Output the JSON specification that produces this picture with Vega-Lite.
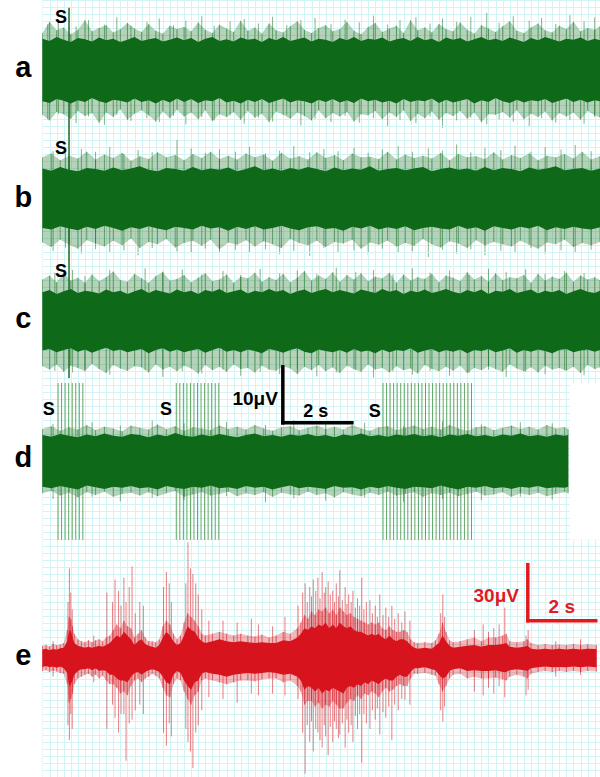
{
"$schema":"https://vega.github.io/schema/vega-lite/v6.json",
"padding":0,"spacing":0,"bounds":"flush","background":"white",
"config":{"view":{"stroke":null},"axis":{"labels":false,"ticks":false,"domain":false,"grid":true,"gridWidth":1,"gridOpacity":1,"minExtent":0,"maxExtent":0}},
"datasets":{
"aT":[{"t":0,"u":5.6,"l":-5.6,"pu":6.6,"pl":-8.0},{"t":0.2,"u":5.2,"l":-5.9,"pu":8.6,"pl":-9.0},{"t":0.4,"u":5.9,"l":-5.2,"pu":7.1,"pl":-7.5},{"t":0.6,"u":5.4,"l":-5.5,"pu":7.6,"pl":-7.9},{"t":0.8,"u":5.0,"l":-6.0,"pu":6.4,"pl":-8.7},{"t":1.0,"u":5.7,"l":-5.4,"pu":7.2,"pl":-7.3},{"t":1.2,"u":5.5,"l":-5.7,"pu":8.9,"pl":-8.2},{"t":1.4,"u":5.1,"l":-5.0,"pu":6.9,"pl":-7.7},{"t":1.6,"u":5.8,"l":-5.6,"pu":7.5,"pl":-9.4},{"t":1.8,"u":5.3,"l":-5.9,"pu":8.0,"pl":-7.6},{"t":2.0,"u":5.6,"l":-5.3,"pu":6.7,"pl":-8.4},{"t":2.2,"u":5.0,"l":-5.5,"pu":7.3,"pl":-7.0},{"t":2.4,"u":5.4,"l":-5.8,"pu":8.4,"pl":-8.9},{"t":2.6,"u":5.9,"l":-5.1,"pu":7.4,"pl":-7.8},{"t":2.8,"u":5.2,"l":-5.7,"pu":6.8,"pl":-7.2},{"t":3.0,"u":5.5,"l":-5.4,"pu":8.2,"pl":-8.1},{"t":3.2,"u":5.7,"l":-6.0,"pu":7.0,"pl":-9.2},{"t":3.4,"u":5.1,"l":-5.3,"pu":6.5,"pl":-7.4},{"t":3.6,"u":5.4,"l":-5.8,"pu":7.9,"pl":-8.6},{"t":3.8,"u":5.8,"l":-5.1,"pu":7.3,"pl":-7.1},{"t":4.0,"u":5.3,"l":-5.7,"pu":7.7,"pl":-8.3},{"t":4.2,"u":5.7,"l":-5.2,"pu":6.9,"pl":-7.6},{"t":4.4,"u":5.0,"l":-5.9,"pu":8.5,"pl":-8.8},{"t":4.6,"u":5.6,"l":-5.4,"pu":7.2,"pl":-7.2},{"t":4.8,"u":5.9,"l":-5.6,"pu":6.6,"pl":-9.1},{"t":5.0,"u":5.2,"l":-5.0,"pu":8.1,"pl":-7.9},{"t":5.2,"u":5.5,"l":-5.8,"pu":7.4,"pl":-8.4},{"t":5.4,"u":5.1,"l":-5.5,"pu":6.8,"pl":-7.5},{"t":5.6,"u":5.8,"l":-6.0,"pu":8.8,"pl":-8.9},{"t":5.8,"u":5.4,"l":-5.3,"pu":7.0,"pl":-7.3},{"t":6.0,"u":5.6,"l":-5.7,"pu":7.6,"pl":-8.5},{"t":6.2,"u":5.0,"l":-5.2,"pu":6.5,"pl":-7.8},{"t":6.4,"u":5.7,"l":-5.9,"pu":8.3,"pl":-9.3},{"t":6.6,"u":5.3,"l":-5.5,"pu":7.1,"pl":-7.4},{"t":6.8,"u":5.9,"l":-5.1,"pu":6.7,"pl":-8.0},{"t":7.0,"u":5.2,"l":-5.8,"pu":7.8,"pl":-8.7},{"t":7.2,"u":5.5,"l":-5.4,"pu":8.7,"pl":-7.6},{"t":7.4,"u":5.8,"l":-5.6,"pu":7.2,"pl":-8.2},{"t":7.6,"u":5.1,"l":-6.0,"pu":6.6,"pl":-9.0},{"t":7.8,"u":5.6,"l":-5.3,"pu":7.5,"pl":-7.2},{"t":8.0,"u":5.4,"l":-5.7,"pu":8.0,"pl":-8.6},{"t":8.2,"u":5.0,"l":-5.2,"pu":6.9,"pl":-7.7},{"t":8.4,"u":5.7,"l":-5.8,"pu":7.3,"pl":-8.3},{"t":8.6,"u":5.3,"l":-5.4,"pu":8.6,"pl":-7.5},{"t":8.8,"u":5.9,"l":-5.9,"pu":7.0,"pl":-9.2},{"t":9.0,"u":5.2,"l":-5.1,"pu":6.4,"pl":-7.9},{"t":9.2,"u":5.6,"l":-5.6,"pu":7.7,"pl":-8.1},{"t":9.4,"u":5.4,"l":-5.3,"pu":8.4,"pl":-7.3},{"t":9.6,"u":5.8,"l":-5.8,"pu":6.8,"pl":-8.8},{"t":9.8,"u":5.1,"l":-5.5,"pu":7.4,"pl":-7.6},{"t":10.0,"u":5.5,"l":-6.0,"pu":7.9,"pl":-8.4},{"t":10.2,"u":5.7,"l":-5.2,"pu":6.6,"pl":-7.2},{"t":10.4,"u":5.2,"l":-5.7,"pu":8.9,"pl":-9.1},{"t":10.6,"u":5.9,"l":-5.4,"pu":7.1,"pl":-7.8},{"t":10.8,"u":5.3,"l":-5.6,"pu":7.6,"pl":-8.6},{"t":11.0,"u":5.6,"l":-5.1,"pu":6.7,"pl":-7.4},{"t":11.2,"u":5.0,"l":-5.9,"pu":8.2,"pl":-8.9},{"t":11.4,"u":5.8,"l":-5.3,"pu":7.3,"pl":-7.7},{"t":11.6,"u":5.4,"l":-5.8,"pu":6.9,"pl":-8.2},{"t":11.8,"u":5.7,"l":-5.5,"pu":8.5,"pl":-7.3},{"t":12.0,"u":5.1,"l":-5.2,"pu":7.2,"pl":-8.7},{"t":12.2,"u":5.5,"l":-6.0,"pu":6.5,"pl":-7.6},{"t":12.4,"u":5.9,"l":-5.4,"pu":8.0,"pl":-9.3},{"t":12.6,"u":5.3,"l":-5.7,"pu":7.4,"pl":-7.9},{"t":12.8,"u":5.6,"l":-5.0,"pu":6.8,"pl":-8.0},{"t":13.0,"u":5.2,"l":-5.6,"pu":7.8,"pl":-7.5},{"t":13.2,"u":5.8,"l":-5.9,"pu":8.7,"pl":-8.5},{"t":13.4,"u":5.4,"l":-5.3,"pu":7.0,"pl":-7.2},{"t":13.6,"u":5.0,"l":-5.8,"pu":6.6,"pl":-8.8},{"t":13.8,"u":5.7,"l":-5.4,"pu":7.6,"pl":-7.8},{"t":14.0,"u":5.3,"l":-5.6,"pu":8.3,"pl":-8.4},{"t":14.2,"u":5.9,"l":-5.2,"pu":7.1,"pl":-7.4},{"t":14.4,"u":5.5,"l":-5.9,"pu":6.7,"pl":-9.0},{"t":14.6,"u":5.1,"l":-5.5,"pu":7.9,"pl":-7.7},{"t":14.8,"u":5.6,"l":-5.1,"pu":7.3,"pl":-8.3},{"t":15.0,"u":5.4,"l":-5.7,"pu":8.6,"pl":-7.6},{"t":15.2,"u":5.8,"l":-5.3,"pu":6.9,"pl":-8.9},{"t":15.4,"u":5.2,"l":-5.8,"pu":7.5,"pl":-7.3},{"t":15.6,"u":5.6,"l":-5.4,"pu":7.2,"pl":-8.1},{"t":15.75,"u":5.3,"l":-5.6,"pu":7.8,"pl":-8.5}],
"aS":[{"t":0.15,"u":8.2,"l":-8.8},{"t":0.45,"u":9.0,"l":-7.9},{"t":0.95,"u":7.8,"l":-9.5},{"t":1.3,"u":8.9,"l":-8.3},{"t":1.75,"u":8.1,"l":-9.8},{"t":2.1,"u":9.4,"l":-8.0},{"t":2.5,"u":7.9,"l":-9.1},{"t":2.95,"u":8.6,"l":-8.6},{"t":3.3,"u":9.2,"l":-9.3},{"t":3.7,"u":8.0,"l":-8.2},{"t":4.05,"u":8.8,"l":-9.7},{"t":4.5,"u":9.6,"l":-8.4},{"t":4.85,"u":7.9,"l":-9.0},{"t":5.3,"u":8.7,"l":-8.1},{"t":5.7,"u":9.1,"l":-9.6},{"t":6.1,"u":8.3,"l":-8.5},{"t":6.5,"u":9.5,"l":-9.2},{"t":6.9,"u":8.0,"l":-8.0},{"t":7.3,"u":8.9,"l":-9.9},{"t":7.7,"u":9.3,"l":-8.7},{"t":8.15,"u":8.2,"l":-9.3},{"t":8.55,"u":9.0,"l":-8.2},{"t":8.95,"u":8.5,"l":-9.4},{"t":9.35,"u":9.7,"l":-8.6},{"t":9.75,"u":8.1,"l":-10.1},{"t":10.1,"u":8.9,"l":-8.9},{"t":10.55,"u":9.4,"l":-9.5},{"t":10.95,"u":8.3,"l":-8.3},{"t":11.3,"u":9.2,"l":-10.4},{"t":11.7,"u":8.6,"l":-9.0},{"t":12.1,"u":9.5,"l":-8.5},{"t":12.55,"u":10.2,"l":-9.7},{"t":12.9,"u":8.4,"l":-8.8},{"t":13.3,"u":9.6,"l":-9.2},{"t":13.75,"u":8.8,"l":-10.0},{"t":14.1,"u":9.3,"l":-8.6},{"t":14.5,"u":8.2,"l":-9.4},{"t":14.9,"u":9.8,"l":-8.9},{"t":15.3,"u":8.7,"l":-9.6},{"t":15.6,"u":9.4,"l":-8.4}],
"bT":[{"t":0,"u":4.9,"l":-5.7,"pu":6.9,"pl":-8.3},{"t":0.25,"u":4.5,"l":-6.0,"pu":7.6,"pl":-9.1},{"t":0.5,"u":5.2,"l":-5.4,"pu":6.4,"pl":-7.8},{"t":0.75,"u":4.7,"l":-5.8,"pu":7.2,"pl":-8.7},{"t":1.0,"u":4.4,"l":-6.1,"pu":6.7,"pl":-9.4},{"t":1.25,"u":5.0,"l":-5.5,"pu":7.9,"pl":-7.9},{"t":1.5,"u":4.8,"l":-5.9,"pu":6.5,"pl":-8.5},{"t":1.75,"u":4.5,"l":-5.3,"pu":7.4,"pl":-9.0},{"t":2.0,"u":5.1,"l":-5.7,"pu":6.8,"pl":-8.0},{"t":2.25,"u":4.6,"l":-6.2,"pu":7.7,"pl":-8.8},{"t":2.5,"u":4.9,"l":-5.6,"pu":6.3,"pl":-7.6},{"t":2.75,"u":5.3,"l":-5.9,"pu":7.1,"pl":-9.3},{"t":3.0,"u":4.7,"l":-5.4,"pu":6.6,"pl":-8.2},{"t":3.25,"u":4.4,"l":-5.8,"pu":7.8,"pl":-8.6},{"t":3.5,"u":5.0,"l":-6.1,"pu":6.9,"pl":-7.7},{"t":3.75,"u":4.8,"l":-5.5,"pu":7.3,"pl":-9.2},{"t":4.0,"u":4.5,"l":-5.7,"pu":6.4,"pl":-8.4},{"t":4.25,"u":5.2,"l":-6.0,"pu":7.5,"pl":-8.0},{"t":4.5,"u":4.6,"l":-5.3,"pu":6.8,"pl":-8.9},{"t":4.75,"u":4.9,"l":-5.8,"pu":7.9,"pl":-7.8},{"t":5.0,"u":4.7,"l":-5.6,"pu":6.6,"pl":-9.5},{"t":5.25,"u":5.1,"l":-6.2,"pu":7.2,"pl":-8.3},{"t":5.5,"u":4.4,"l":-5.5,"pu":6.5,"pl":-8.7},{"t":5.75,"u":4.8,"l":-5.9,"pu":7.6,"pl":-7.9},{"t":6.0,"u":5.3,"l":-5.4,"pu":6.9,"pl":-9.0},{"t":6.25,"u":4.6,"l":-6.0,"pu":7.4,"pl":-8.1},{"t":6.5,"u":4.9,"l":-5.7,"pu":6.3,"pl":-8.6},{"t":6.75,"u":4.5,"l":-5.3,"pu":7.7,"pl":-9.3},{"t":7.0,"u":5.0,"l":-5.8,"pu":6.7,"pl":-7.7},{"t":7.25,"u":4.7,"l":-6.1,"pu":7.1,"pl":-8.4},{"t":7.5,"u":5.2,"l":-5.6,"pu":6.5,"pl":-8.8},{"t":7.75,"u":4.8,"l":-5.4,"pu":7.8,"pl":-8.0},{"t":8.0,"u":4.4,"l":-5.9,"pu":6.8,"pl":-9.1},{"t":8.25,"u":5.1,"l":-5.7,"pu":7.3,"pl":-8.2},{"t":8.5,"u":4.6,"l":-6.2,"pu":6.4,"pl":-8.5},{"t":8.75,"u":4.9,"l":-5.5,"pu":7.6,"pl":-7.8},{"t":9.0,"u":4.7,"l":-5.8,"pu":6.9,"pl":-9.4},{"t":9.25,"u":5.3,"l":-5.3,"pu":7.0,"pl":-8.3},{"t":9.5,"u":4.5,"l":-6.0,"pu":6.6,"pl":-8.7},{"t":9.75,"u":4.8,"l":-5.6,"pu":7.9,"pl":-8.0},{"t":10.0,"u":5.0,"l":-5.9,"pu":6.5,"pl":-9.0},{"t":10.25,"u":4.6,"l":-5.4,"pu":7.4,"pl":-8.4},{"t":10.5,"u":4.9,"l":-6.1,"pu":6.8,"pl":-8.9},{"t":10.75,"u":5.2,"l":-5.7,"pu":7.2,"pl":-7.7},{"t":11.0,"u":4.4,"l":-5.5,"pu":6.7,"pl":-8.6},{"t":11.25,"u":4.8,"l":-5.8,"pu":7.7,"pl":-9.2},{"t":11.5,"u":5.1,"l":-6.0,"pu":6.4,"pl":-8.1},{"t":11.75,"u":4.7,"l":-5.3,"pu":7.5,"pl":-8.5},{"t":12.0,"u":4.9,"l":-5.9,"pu":6.9,"pl":-9.3},{"t":12.25,"u":4.5,"l":-5.6,"pu":7.1,"pl":-7.9},{"t":12.5,"u":5.2,"l":-6.2,"pu":6.6,"pl":-8.8},{"t":12.75,"u":4.6,"l":-5.4,"pu":7.8,"pl":-8.2},{"t":13.0,"u":5.0,"l":-5.7,"pu":6.5,"pl":-8.6},{"t":13.25,"u":4.8,"l":-6.0,"pu":7.3,"pl":-9.0},{"t":13.5,"u":4.4,"l":-5.5,"pu":6.8,"pl":-8.0},{"t":13.75,"u":5.1,"l":-5.8,"pu":7.6,"pl":-8.7},{"t":14.0,"u":4.7,"l":-5.3,"pu":6.4,"pl":-9.4},{"t":14.25,"u":4.9,"l":-6.1,"pu":7.2,"pl":-8.3},{"t":14.5,"u":5.3,"l":-5.6,"pu":6.9,"pl":-8.6},{"t":14.75,"u":4.6,"l":-5.9,"pu":7.5,"pl":-7.8},{"t":15.0,"u":4.8,"l":-5.5,"pu":6.7,"pl":-9.1},{"t":15.25,"u":5.0,"l":-5.8,"pu":7.9,"pl":-8.4},{"t":15.5,"u":4.5,"l":-6.0,"pu":6.5,"pl":-8.8},{"t":15.75,"u":4.9,"l":-5.6,"pu":7.1,"pl":-8.2}],
"bS":[{"t":0.3,"u":8.0,"l":-9.8},{"t":0.65,"u":7.6,"l":-9.2},{"t":1.1,"u":8.4,"l":-10.3},{"t":1.5,"u":7.9,"l":-9.5},{"t":1.9,"u":8.7,"l":-10.0},{"t":2.3,"u":7.5,"l":-9.7},{"t":2.7,"u":8.2,"l":-10.6},{"t":3.1,"u":7.8,"l":-9.3},{"t":3.8,"u":10.0,"l":-9.9},{"t":4.2,"u":8.5,"l":-10.2},{"t":4.6,"u":7.7,"l":-9.4},{"t":5.0,"u":8.3,"l":-10.8},{"t":5.45,"u":7.9,"l":-9.6},{"t":5.85,"u":8.8,"l":-10.1},{"t":6.3,"u":7.6,"l":-9.5},{"t":6.7,"u":8.1,"l":-10.4},{"t":7.1,"u":8.9,"l":-9.8},{"t":7.55,"u":7.8,"l":-10.7},{"t":7.95,"u":8.4,"l":-9.3},{"t":8.35,"u":8.0,"l":-10.0},{"t":8.8,"u":8.6,"l":-9.7},{"t":9.2,"u":7.7,"l":-10.5},{"t":9.6,"u":8.3,"l":-9.4},{"t":10.05,"u":8.9,"l":-10.2},{"t":10.45,"u":7.9,"l":-9.9},{"t":10.9,"u":8.5,"l":-10.9},{"t":11.3,"u":8.1,"l":-9.6},{"t":11.7,"u":9.2,"l":-10.3},{"t":12.1,"u":7.8,"l":-9.5},{"t":12.5,"u":8.6,"l":-10.6},{"t":12.95,"u":8.2,"l":-9.8},{"t":13.35,"u":9.0,"l":-10.1},{"t":13.8,"u":7.9,"l":-9.3},{"t":14.2,"u":8.7,"l":-10.4},{"t":14.65,"u":8.3,"l":-9.7},{"t":15.05,"u":9.1,"l":-10.0},{"t":15.5,"u":8.0,"l":-9.6}],
"cT":[{"t":0,"u":5.3,"l":-5.1,"pu":7.6,"pl":-7.9},{"t":0.2,"u":5.7,"l":-4.8,"pu":8.3,"pl":-8.5},{"t":0.4,"u":5.0,"l":-5.4,"pu":7.1,"pl":-7.6},{"t":0.6,"u":5.5,"l":-5.0,"pu":8.8,"pl":-8.9},{"t":0.8,"u":5.9,"l":-4.7,"pu":7.4,"pl":-7.8},{"t":1.0,"u":5.2,"l":-5.3,"pu":7.9,"pl":-8.2},{"t":1.2,"u":5.6,"l":-4.9,"pu":7.0,"pl":-8.8},{"t":1.4,"u":5.4,"l":-5.5,"pu":8.5,"pl":-7.5},{"t":1.6,"u":5.1,"l":-5.0,"pu":7.3,"pl":-8.4},{"t":1.8,"u":5.8,"l":-4.6,"pu":8.0,"pl":-9.1},{"t":2.0,"u":5.3,"l":-5.2,"pu":9.0,"pl":-7.7},{"t":2.2,"u":5.6,"l":-4.9,"pu":7.5,"pl":-8.3},{"t":2.4,"u":5.0,"l":-5.4,"pu":7.2,"pl":-8.7},{"t":2.6,"u":5.5,"l":-5.1,"pu":8.6,"pl":-7.9},{"t":2.8,"u":5.9,"l":-4.8,"pu":7.8,"pl":-8.1},{"t":3.0,"u":5.2,"l":-5.6,"pu":7.0,"pl":-9.0},{"t":3.2,"u":5.7,"l":-5.0,"pu":8.2,"pl":-7.6},{"t":3.4,"u":5.4,"l":-4.7,"pu":8.9,"pl":-8.5},{"t":3.6,"u":5.1,"l":-5.3,"pu":7.4,"pl":-8.0},{"t":3.8,"u":5.8,"l":-4.9,"pu":7.7,"pl":-8.8},{"t":4.0,"u":5.3,"l":-5.4,"pu":8.4,"pl":-7.8},{"t":4.2,"u":5.6,"l":-5.1,"pu":7.1,"pl":-8.3},{"t":4.4,"u":5.0,"l":-4.8,"pu":7.9,"pl":-9.2},{"t":4.6,"u":5.7,"l":-5.5,"pu":8.7,"pl":-7.7},{"t":4.8,"u":5.4,"l":-5.0,"pu":7.3,"pl":-8.6},{"t":5.0,"u":5.9,"l":-4.6,"pu":7.6,"pl":-8.0},{"t":5.2,"u":5.2,"l":-5.3,"pu":8.5,"pl":-8.9},{"t":5.4,"u":5.5,"l":-5.0,"pu":7.0,"pl":-7.6},{"t":5.6,"u":5.8,"l":-5.4,"pu":8.1,"pl":-8.4},{"t":5.8,"u":5.1,"l":-4.9,"pu":7.8,"pl":-8.2},{"t":6.0,"u":5.6,"l":-5.2,"pu":8.8,"pl":-9.0},{"t":6.2,"u":5.3,"l":-5.6,"pu":7.2,"pl":-7.8},{"t":6.4,"u":5.9,"l":-4.8,"pu":8.0,"pl":-8.5},{"t":6.6,"u":5.4,"l":-5.1,"pu":7.5,"pl":-8.7},{"t":6.8,"u":5.7,"l":-5.5,"pu":8.6,"pl":-7.9},{"t":7.0,"u":5.0,"l":-5.0,"pu":7.1,"pl":-8.3},{"t":7.2,"u":5.5,"l":-4.7,"pu":7.9,"pl":-9.3},{"t":7.4,"u":5.8,"l":-5.3,"pu":9.1,"pl":-8.0},{"t":7.6,"u":5.2,"l":-5.6,"pu":7.4,"pl":-8.6},{"t":7.8,"u":5.6,"l":-4.9,"pu":8.3,"pl":-7.7},{"t":8.0,"u":5.9,"l":-5.2,"pu":7.7,"pl":-8.8},{"t":8.2,"u":5.3,"l":-5.4,"pu":8.9,"pl":-8.1},{"t":8.4,"u":5.7,"l":-5.0,"pu":7.2,"pl":-9.1},{"t":8.6,"u":5.4,"l":-5.5,"pu":8.4,"pl":-7.8},{"t":8.8,"u":5.1,"l":-4.8,"pu":7.6,"pl":-8.4},{"t":9.0,"u":5.8,"l":-5.3,"pu":8.7,"pl":-8.9},{"t":9.2,"u":5.5,"l":-5.1,"pu":7.3,"pl":-7.6},{"t":9.4,"u":5.2,"l":-5.6,"pu":8.1,"pl":-8.5},{"t":9.6,"u":5.9,"l":-4.9,"pu":7.8,"pl":-8.2},{"t":9.8,"u":5.4,"l":-5.4,"pu":8.8,"pl":-9.0},{"t":10.0,"u":5.7,"l":-5.0,"pu":7.0,"pl":-7.9},{"t":10.2,"u":5.0,"l":-5.2,"pu":8.5,"pl":-8.6},{"t":10.4,"u":5.6,"l":-4.7,"pu":7.4,"pl":-8.3},{"t":10.6,"u":5.3,"l":-5.5,"pu":8.0,"pl":-9.2},{"t":10.8,"u":5.8,"l":-5.1,"pu":7.7,"pl":-7.7},{"t":11.0,"u":5.2,"l":-4.8,"pu":8.6,"pl":-8.4},{"t":11.2,"u":5.5,"l":-5.4,"pu":7.1,"pl":-8.8},{"t":11.4,"u":5.9,"l":-5.0,"pu":8.3,"pl":-8.0},{"t":11.6,"u":5.4,"l":-5.3,"pu":7.9,"pl":-8.7},{"t":11.8,"u":5.1,"l":-4.9,"pu":7.3,"pl":-7.8},{"t":12.0,"u":5.7,"l":-5.6,"pu":8.9,"pl":-9.1},{"t":12.2,"u":5.3,"l":-5.0,"pu":7.6,"pl":-8.2},{"t":12.4,"u":5.8,"l":-5.2,"pu":8.2,"pl":-8.6},{"t":12.6,"u":5.0,"l":-4.8,"pu":7.2,"pl":-7.9},{"t":12.8,"u":5.6,"l":-5.4,"pu":8.7,"pl":-8.4},{"t":13.0,"u":5.4,"l":-5.1,"pu":7.5,"pl":-8.9},{"t":13.2,"u":5.9,"l":-4.7,"pu":8.0,"pl":-7.6},{"t":13.4,"u":5.2,"l":-5.5,"pu":7.8,"pl":-8.3},{"t":13.6,"u":5.5,"l":-5.0,"pu":8.4,"pl":-8.8},{"t":13.8,"u":5.8,"l":-5.3,"pu":7.0,"pl":-8.1},{"t":14.0,"u":5.1,"l":-4.9,"pu":8.6,"pl":-9.0},{"t":14.2,"u":5.6,"l":-5.2,"pu":7.4,"pl":-7.8},{"t":14.4,"u":5.3,"l":-5.6,"pu":8.1,"pl":-8.5},{"t":14.6,"u":5.7,"l":-5.0,"pu":7.7,"pl":-8.2},{"t":14.8,"u":5.0,"l":-4.8,"pu":8.8,"pl":-8.7},{"t":15.0,"u":5.5,"l":-5.4,"pu":7.2,"pl":-8.0},{"t":15.2,"u":5.9,"l":-5.1,"pu":8.3,"pl":-9.1},{"t":15.4,"u":5.4,"l":-4.9,"pu":7.6,"pl":-7.7},{"t":15.6,"u":5.2,"l":-5.3,"pu":8.0,"pl":-8.4},{"t":15.75,"u":5.6,"l":-5.0,"pu":7.5,"pl":-8.1}],
"cS":[{"t":0.35,"u":8.8,"l":-8.7},{"t":0.85,"u":9.3,"l":-9.0},{"t":1.2,"u":8.2,"l":-8.4},{"t":1.9,"u":9.3,"l":-9.4},{"t":2.9,"u":9.6,"l":-8.6},{"t":3.4,"u":9.0,"l":-9.8},{"t":3.95,"u":9.4,"l":-8.8},{"t":4.5,"u":8.5,"l":-9.2},{"t":5.1,"u":9.1,"l":-8.5},{"t":5.6,"u":8.4,"l":-9.6},{"t":6.15,"u":9.5,"l":-8.9},{"t":6.7,"u":8.7,"l":-9.3},{"t":7.2,"u":9.2,"l":-8.4},{"t":7.75,"u":8.6,"l":-9.7},{"t":8.3,"u":9.7,"l":-9.0},{"t":8.85,"u":8.9,"l":-8.6},{"t":9.35,"u":9.3,"l":-9.9},{"t":9.9,"u":8.5,"l":-8.8},{"t":10.45,"u":9.6,"l":-9.4},{"t":10.95,"u":8.8,"l":-8.7},{"t":11.5,"u":9.2,"l":-9.6},{"t":12.05,"u":8.4,"l":-9.1},{"t":12.6,"u":9.5,"l":-8.5},{"t":13.1,"u":8.9,"l":-9.8},{"t":13.65,"u":9.4,"l":-8.9},{"t":14.2,"u":8.6,"l":-9.3},{"t":14.75,"u":9.1,"l":-8.6},{"t":15.3,"u":8.7,"l":-9.5}],
"dT":[{"t":0,"u":4.8,"l":-4.4,"pu":5.9,"pl":-5.6},{"t":0.25,"u":4.5,"l":-4.7,"pu":6.4,"pl":-5.2},{"t":0.5,"u":5.0,"l":-4.3,"pu":5.6,"pl":-6.0},{"t":0.75,"u":4.7,"l":-4.6,"pu":6.2,"pl":-5.5},{"t":1.0,"u":4.4,"l":-4.9,"pu":5.8,"pl":-6.3},{"t":1.25,"u":4.9,"l":-4.2,"pu":6.6,"pl":-5.4},{"t":1.5,"u":4.6,"l":-4.5,"pu":5.7,"pl":-5.9},{"t":1.75,"u":5.1,"l":-4.8,"pu":6.3,"pl":-5.3},{"t":2.0,"u":4.7,"l":-4.4,"pu":6.0,"pl":-6.2},{"t":2.25,"u":4.5,"l":-4.6,"pu":5.5,"pl":-5.7},{"t":2.5,"u":5.0,"l":-4.3,"pu":6.5,"pl":-5.5},{"t":2.75,"u":4.8,"l":-4.7,"pu":6.1,"pl":-6.0},{"t":3.0,"u":4.4,"l":-4.5,"pu":5.8,"pl":-5.4},{"t":3.25,"u":4.9,"l":-4.9,"pu":6.7,"pl":-6.1},{"t":3.5,"u":4.6,"l":-4.3,"pu":5.9,"pl":-5.6},{"t":3.75,"u":5.2,"l":-4.6,"pu":6.4,"pl":-5.2},{"t":4.0,"u":4.7,"l":-4.8,"pu":5.6,"pl":-6.2},{"t":4.25,"u":4.5,"l":-4.4,"pu":6.2,"pl":-5.8},{"t":4.5,"u":4.9,"l":-4.6,"pu":6.0,"pl":-5.4},{"t":4.75,"u":4.6,"l":-4.2,"pu":5.7,"pl":-6.0},{"t":5.0,"u":5.0,"l":-4.7,"pu":6.5,"pl":-5.7},{"t":5.25,"u":4.7,"l":-4.5,"pu":5.9,"pl":-5.3},{"t":5.5,"u":4.4,"l":-4.8,"pu":6.3,"pl":-6.1},{"t":5.75,"u":4.8,"l":-4.3,"pu":5.8,"pl":-5.6},{"t":6.0,"u":5.1,"l":-4.6,"pu":6.6,"pl":-5.9},{"t":6.25,"u":4.6,"l":-4.4,"pu":6.0,"pl":-5.4},{"t":6.5,"u":4.8,"l":-4.9,"pu":5.6,"pl":-6.2},{"t":6.75,"u":4.5,"l":-4.5,"pu":6.2,"pl":-5.5},{"t":7.0,"u":4.9,"l":-4.2,"pu":6.4,"pl":-5.8},{"t":7.25,"u":4.7,"l":-4.7,"pu":5.7,"pl":-6.0},{"t":7.5,"u":5.0,"l":-4.4,"pu":6.1,"pl":-5.3},{"t":7.75,"u":4.6,"l":-4.6,"pu":6.5,"pl":-5.9},{"t":8.0,"u":4.8,"l":-4.8,"pu":5.9,"pl":-5.6},{"t":8.25,"u":4.4,"l":-4.3,"pu":6.3,"pl":-6.3},{"t":8.5,"u":4.9,"l":-4.6,"pu":5.8,"pl":-5.4},{"t":8.75,"u":4.7,"l":-4.5,"pu":6.6,"pl":-5.8},{"t":9.0,"u":5.1,"l":-4.9,"pu":6.0,"pl":-6.1},{"t":9.25,"u":4.6,"l":-4.4,"pu":5.6,"pl":-5.5},{"t":9.5,"u":4.8,"l":-4.7,"pu":6.2,"pl":-5.9},{"t":9.75,"u":4.5,"l":-4.3,"pu":6.4,"pl":-5.3},{"t":10.0,"u":4.9,"l":-4.6,"pu":5.7,"pl":-6.0},{"t":10.25,"u":4.7,"l":-4.8,"pu":6.1,"pl":-5.7},{"t":10.5,"u":5.0,"l":-4.4,"pu":6.5,"pl":-5.4},{"t":10.75,"u":4.6,"l":-4.5,"pu":5.9,"pl":-6.2},{"t":11.0,"u":4.8,"l":-4.7,"pu":6.3,"pl":-5.6},{"t":11.25,"u":4.4,"l":-4.2,"pu":5.8,"pl":-5.9},{"t":11.5,"u":4.9,"l":-4.6,"pu":6.6,"pl":-5.5},{"t":11.75,"u":4.7,"l":-4.9,"pu":6.0,"pl":-6.1},{"t":12.0,"u":5.0,"l":-4.4,"pu":5.6,"pl":-5.7},{"t":12.25,"u":4.6,"l":-4.6,"pu":6.2,"pl":-5.3},{"t":12.5,"u":4.8,"l":-4.3,"pu":6.4,"pl":-6.0},{"t":12.75,"u":4.5,"l":-4.7,"pu":5.7,"pl":-5.8},{"t":13.0,"u":4.9,"l":-4.5,"pu":6.1,"pl":-5.4},{"t":13.25,"u":4.7,"l":-4.8,"pu":6.5,"pl":-6.2},{"t":13.5,"u":5.1,"l":-4.4,"pu":5.9,"pl":-5.6},{"t":13.75,"u":4.6,"l":-4.6,"pu":6.3,"pl":-5.9},{"t":14.0,"u":4.8,"l":-4.3,"pu":5.8,"pl":-5.5},{"t":14.25,"u":4.5,"l":-4.7,"pu":6.6,"pl":-6.1},{"t":14.5,"u":4.9,"l":-4.5,"pu":6.0,"pl":-5.7},{"t":14.75,"u":4.7,"l":-4.6,"pu":6.2,"pl":-5.4},{"t":14.85,"u":4.8,"l":-4.4,"pu":5.9,"pl":-5.6}],
"dS":[{"t":0.3,"u":6.8,"l":-6.6},{"t":1.4,"u":7.1,"l":-6.2},{"t":2.2,"u":6.5,"l":-7.0},{"t":3.1,"u":7.4,"l":-6.4},{"t":4.0,"u":6.9,"l":-6.8},{"t":5.2,"u":7.2,"l":-6.1},{"t":6.3,"u":6.6,"l":-7.2},{"t":7.1,"u":7.5,"l":-6.5},{"t":8.0,"u":6.8,"l":-6.9},{"t":9.1,"u":7.0,"l":-6.3},{"t":10.2,"u":6.4,"l":-7.1},{"t":11.3,"u":7.3,"l":-6.6},{"t":12.4,"u":6.7,"l":-6.8},{"t":13.5,"u":7.1,"l":-6.2},{"t":14.4,"u":6.9,"l":-6.7}],
"stim":[{"t":0.44},{"t":0.54},{"t":0.64},{"t":0.74},{"t":0.84},{"t":0.94},{"t":1.04},{"t":1.14},{"t":3.78},{"t":3.88},{"t":3.98},{"t":4.08},{"t":4.18},{"t":4.28},{"t":4.38},{"t":4.48},{"t":4.58},{"t":4.68},{"t":4.78},{"t":4.88},{"t":4.98},{"t":9.62},{"t":9.72},{"t":9.82},{"t":9.92},{"t":10.02},{"t":10.12},{"t":10.22},{"t":10.32},{"t":10.42},{"t":10.52},{"t":10.62},{"t":10.72},{"t":10.82},{"t":10.92},{"t":11.02},{"t":11.12},{"t":11.22},{"t":11.32},{"t":11.42},{"t":11.52},{"t":11.62},{"t":11.72},{"t":11.82},{"t":11.92},{"t":12.02},{"t":12.12}],
"eT":[{"t":0,"u":4.5,"l":-4.8,"pu":6.5,"pl":-7},{"t":0.1,"u":5,"l":-4.3,"pu":7,"pl":-6.5},{"t":0.2,"u":4.2,"l":-5,"pu":6.2,"pl":-7.5},{"t":0.3,"u":4.8,"l":-4.5,"pu":7.5,"pl":-6.8},{"t":0.4,"u":4.4,"l":-5.2,"pu":6.8,"pl":-7.2},{"t":0.5,"u":5.2,"l":-4.6,"pu":7.2,"pl":-8},{"t":0.6,"u":5.5,"l":-5.5,"pu":8,"pl":-8.5},{"t":0.7,"u":9,"l":-8,"pu":15,"pl":-14},{"t":0.75,"u":14,"l":-15,"pu":22,"pl":-24},{"t":0.8,"u":15,"l":-14,"pu":21,"pl":-22},{"t":0.85,"u":11,"l":-12,"pu":17,"pl":-19},{"t":0.9,"u":8,"l":-9,"pu":13,"pl":-14},{"t":1.0,"u":6.5,"l":-7,"pu":10,"pl":-11},{"t":1.1,"u":6,"l":-6,"pu":9,"pl":-10},{"t":1.2,"u":5.5,"l":-6,"pu":8.5,"pl":-9},{"t":1.3,"u":6,"l":-5.5,"pu":9.5,"pl":-8.5},{"t":1.4,"u":5.5,"l":-6.5,"pu":8.5,"pl":-10},{"t":1.5,"u":6,"l":-5.5,"pu":9.5,"pl":-9},{"t":1.6,"u":6.5,"l":-7,"pu":10,"pl":-11},{"t":1.7,"u":6,"l":-6.5,"pu":9,"pl":-9.5},{"t":1.8,"u":7,"l":-7,"pu":11,"pl":-12},{"t":1.9,"u":8,"l":-9,"pu":12,"pl":-14},{"t":2.0,"u":10,"l":-9,"pu":15,"pl":-14},{"t":2.1,"u":12,"l":-11,"pu":18,"pl":-16},{"t":2.2,"u":11,"l":-12,"pu":16,"pl":-19},{"t":2.3,"u":14,"l":-12,"pu":20,"pl":-18},{"t":2.4,"u":12,"l":-13,"pu":17,"pl":-20},{"t":2.5,"u":10,"l":-10,"pu":16,"pl":-15},{"t":2.6,"u":7,"l":-8,"pu":11,"pl":-12},{"t":2.7,"u":9,"l":-7.5,"pu":13,"pl":-11},{"t":2.8,"u":10,"l":-9,"pu":15,"pl":-13},{"t":2.9,"u":7.5,"l":-7.5,"pu":11,"pl":-11},{"t":3.0,"u":6.5,"l":-6.5,"pu":9,"pl":-10},{"t":3.1,"u":6,"l":-6,"pu":9,"pl":-8.5},{"t":3.2,"u":5.5,"l":-6.5,"pu":8.5,"pl":-9.5},{"t":3.3,"u":7,"l":-7.5,"pu":10,"pl":-11},{"t":3.4,"u":11,"l":-10,"pu":17,"pl":-16},{"t":3.5,"u":14,"l":-13,"pu":20,"pl":-20},{"t":3.6,"u":12,"l":-14,"pu":18,"pl":-21},{"t":3.7,"u":9,"l":-9,"pu":13,"pl":-14},{"t":3.8,"u":7,"l":-7,"pu":10,"pl":-11},{"t":3.9,"u":8,"l":-8,"pu":12,"pl":-12},{"t":4.0,"u":12,"l":-12,"pu":19,"pl":-18},{"t":4.1,"u":17,"l":-15,"pu":24,"pl":-22},{"t":4.2,"u":15,"l":-17,"pu":22,"pl":-25},{"t":4.3,"u":14,"l":-13,"pu":20,"pl":-20},{"t":4.4,"u":11,"l":-12,"pu":17,"pl":-18},{"t":4.5,"u":9,"l":-8.5,"pu":13,"pl":-12},{"t":4.6,"u":8,"l":-7.5,"pu":12,"pl":-11},{"t":4.8,"u":9,"l":-8.5,"pu":13,"pl":-12},{"t":5.0,"u":10,"l":-9,"pu":14,"pl":-13},{"t":5.2,"u":9,"l":-10,"pu":13,"pl":-14},{"t":5.4,"u":8.5,"l":-9,"pu":12,"pl":-13},{"t":5.6,"u":9,"l":-8.5,"pu":13,"pl":-12},{"t":5.8,"u":8.5,"l":-8,"pu":12,"pl":-12},{"t":6.0,"u":8,"l":-8.5,"pu":11.5,"pl":-12.5},{"t":6.2,"u":8.5,"l":-8,"pu":12.5,"pl":-11.5},{"t":6.4,"u":8,"l":-7.5,"pu":11,"pl":-11},{"t":6.6,"u":8,"l":-8,"pu":12,"pl":-11},{"t":6.8,"u":9.5,"l":-9,"pu":14,"pl":-13},{"t":7.0,"u":9,"l":-8.5,"pu":13,"pl":-12},{"t":7.2,"u":11,"l":-10,"pu":16,"pl":-15},{"t":7.3,"u":13,"l":-12,"pu":19,"pl":-18},{"t":7.4,"u":16,"l":-17,"pu":23,"pl":-25},{"t":7.5,"u":15,"l":-15,"pu":21,"pl":-23},{"t":7.6,"u":17,"l":-16,"pu":25,"pl":-23},{"t":7.7,"u":16,"l":-18,"pu":23,"pl":-26},{"t":7.8,"u":18,"l":-16,"pu":26,"pl":-24},{"t":7.9,"u":17,"l":-19,"pu":25,"pl":-27},{"t":8.0,"u":19,"l":-17,"pu":27,"pl":-25},{"t":8.1,"u":16,"l":-18,"pu":24,"pl":-26},{"t":8.2,"u":18,"l":-16,"pu":26,"pl":-23},{"t":8.3,"u":16,"l":-17,"pu":23,"pl":-25},{"t":8.4,"u":19,"l":-18,"pu":27,"pl":-27},{"t":8.5,"u":17,"l":-19,"pu":25,"pl":-27},{"t":8.6,"u":16,"l":-16,"pu":23,"pl":-24},{"t":8.7,"u":17,"l":-15,"pu":24,"pl":-22},{"t":8.8,"u":15,"l":-16,"pu":22,"pl":-23},{"t":8.9,"u":14,"l":-14,"pu":21,"pl":-20},{"t":9.0,"u":14,"l":-15,"pu":20,"pl":-22},{"t":9.1,"u":13,"l":-13,"pu":19,"pl":-19},{"t":9.2,"u":12,"l":-14,"pu":18,"pl":-20},{"t":9.3,"u":13,"l":-12,"pu":19,"pl":-18},{"t":9.4,"u":12,"l":-13,"pu":18,"pl":-19},{"t":9.5,"u":13,"l":-14,"pu":19,"pl":-21},{"t":9.6,"u":11,"l":-12,"pu":16,"pl":-18},{"t":9.7,"u":10,"l":-11,"pu":15,"pl":-16},{"t":9.8,"u":12,"l":-12,"pu":17,"pl":-18},{"t":9.9,"u":10,"l":-12,"pu":15,"pl":-17},{"t":10.0,"u":9,"l":-10,"pu":14,"pl":-15},{"t":10.1,"u":10,"l":-9,"pu":14,"pl":-14},{"t":10.2,"u":10,"l":-10,"pu":15,"pl":-15},{"t":10.3,"u":9,"l":-10,"pu":14,"pl":-15},{"t":10.4,"u":7,"l":-7.5,"pu":10,"pl":-11},{"t":10.5,"u":5.5,"l":-5.5,"pu":8.5,"pl":-8.5},{"t":10.6,"u":5,"l":-5.5,"pu":8,"pl":-8.5},{"t":10.8,"u":5.5,"l":-5,"pu":8.5,"pl":-8},{"t":11.0,"u":5,"l":-6,"pu":8,"pl":-9},{"t":11.1,"u":6.5,"l":-6.5,"pu":9.5,"pl":-9.5},{"t":11.2,"u":8,"l":-9,"pu":13,"pl":-14},{"t":11.3,"u":12,"l":-11,"pu":19,"pl":-18},{"t":11.4,"u":9,"l":-10,"pu":14,"pl":-15},{"t":11.5,"u":6.5,"l":-7,"pu":9.5,"pl":-11},{"t":11.6,"u":5.5,"l":-6,"pu":8.5,"pl":-9},{"t":11.8,"u":6,"l":-5.5,"pu":9,"pl":-8.5},{"t":12.0,"u":6.5,"l":-7,"pu":10,"pl":-11},{"t":12.2,"u":7,"l":-6.5,"pu":11,"pl":-10},{"t":12.4,"u":6,"l":-7,"pu":9,"pl":-11},{"t":12.6,"u":7,"l":-7,"pu":11,"pl":-11},{"t":12.8,"u":7,"l":-6.5,"pu":11,"pl":-10.5},{"t":13.0,"u":7.5,"l":-7.5,"pu":12,"pl":-11.5},{"t":13.1,"u":8,"l":-7.5,"pu":13,"pl":-12},{"t":13.2,"u":6,"l":-6.5,"pu":9,"pl":-10},{"t":13.4,"u":5.5,"l":-6,"pu":8.5,"pl":-9},{"t":13.6,"u":6,"l":-6.5,"pu":9,"pl":-10},{"t":13.7,"u":6.5,"l":-7,"pu":10,"pl":-11},{"t":13.8,"u":5,"l":-5.5,"pu":8,"pl":-8.5},{"t":14.0,"u":4.5,"l":-5,"pu":7,"pl":-7.5},{"t":14.2,"u":5,"l":-4.5,"pu":7.5,"pl":-7},{"t":14.4,"u":4.5,"l":-5,"pu":7,"pl":-7.5},{"t":14.6,"u":5,"l":-4.8,"pu":7.2,"pl":-7},{"t":14.8,"u":4.6,"l":-5,"pu":7,"pl":-7.5},{"t":15.0,"u":5,"l":-4.6,"pu":7.5,"pl":-7},{"t":15.2,"u":4.5,"l":-5,"pu":7,"pl":-7.5},{"t":15.4,"u":5,"l":-4.5,"pu":7.3,"pl":-7},{"t":15.65,"u":4.8,"l":-5,"pu":7,"pl":-7.2}],
"eS":[{"t":0.76,"u":48,"l":-44},{"t":0.8,"u":35,"l":-30},{"t":0.72,"u":30,"l":-36},{"t":0.84,"u":26,"l":-38},{"t":1.82,"u":35,"l":-38},{"t":1.98,"u":30,"l":-25},{"t":2.05,"u":42,"l":-32},{"t":2.15,"u":36,"l":-40},{"t":2.22,"u":28,"l":-30},{"t":2.3,"u":43,"l":-30},{"t":2.36,"u":30,"l":-55},{"t":2.45,"u":38,"l":-35},{"t":2.53,"u":49,"l":-33},{"t":2.62,"u":24,"l":-28},{"t":2.75,"u":30,"l":-25},{"t":2.85,"u":28,"l":-30},{"t":3.42,"u":38,"l":-40},{"t":3.5,"u":46,"l":-47},{"t":3.58,"u":40,"l":-35},{"t":3.64,"u":30,"l":-42},{"t":4.05,"u":40,"l":-38},{"t":4.11,"u":62,"l":-45},{"t":4.18,"u":48,"l":-50},{"t":4.25,"u":45,"l":-59},{"t":4.33,"u":40,"l":-40},{"t":4.4,"u":34,"l":-36},{"t":4.5,"u":26,"l":-28},{"t":4.7,"u":20,"l":-21},{"t":5.1,"u":20,"l":-22},{"t":5.5,"u":19,"l":-24},{"t":6.1,"u":18,"l":-20},{"t":6.5,"u":17,"l":-19},{"t":6.85,"u":22,"l":-20},{"t":7.22,"u":28,"l":-22},{"t":7.35,"u":35,"l":-40},{"t":7.42,"u":40,"l":-62},{"t":7.48,"u":30,"l":-36},{"t":7.55,"u":38,"l":-45},{"t":7.6,"u":33,"l":-34},{"t":7.65,"u":42,"l":-50},{"t":7.72,"u":36,"l":-38},{"t":7.78,"u":43,"l":-40},{"t":7.84,"u":32,"l":-44},{"t":7.9,"u":46,"l":-48},{"t":7.96,"u":35,"l":-36},{"t":8.0,"u":38,"l":-42},{"t":8.07,"u":41,"l":-52},{"t":8.13,"u":34,"l":-37},{"t":8.2,"u":36,"l":-45},{"t":8.25,"u":30,"l":-34},{"t":8.3,"u":40,"l":-38},{"t":8.36,"u":33,"l":-43},{"t":8.4,"u":47,"l":-41},{"t":8.47,"u":31,"l":-35},{"t":8.55,"u":38,"l":-48},{"t":8.6,"u":29,"l":-33},{"t":8.65,"u":34,"l":-40},{"t":8.72,"u":30,"l":-36},{"t":8.77,"u":36,"l":-45},{"t":8.84,"u":27,"l":-31},{"t":8.9,"u":32,"l":-38},{"t":8.96,"u":28,"l":-30},{"t":9.02,"u":43,"l":-56},{"t":9.08,"u":26,"l":-30},{"t":9.15,"u":30,"l":-35},{"t":9.25,"u":31,"l":-38},{"t":9.32,"u":24,"l":-28},{"t":9.4,"u":28,"l":-33},{"t":9.46,"u":22,"l":-27},{"t":9.53,"u":34,"l":-41},{"t":9.62,"u":23,"l":-29},{"t":9.7,"u":27,"l":-32},{"t":9.78,"u":22,"l":-26},{"t":9.87,"u":28,"l":-44},{"t":9.95,"u":21,"l":-25},{"t":10.05,"u":24,"l":-28},{"t":10.15,"u":19,"l":-22},{"t":10.24,"u":25,"l":-22.5},{"t":10.38,"u":20,"l":-25},{"t":11.25,"u":24,"l":-28},{"t":11.31,"u":34,"l":-34},{"t":11.36,"u":22,"l":-26},{"t":12.2,"u":15,"l":-18},{"t":12.45,"u":18,"l":-20},{"t":12.6,"u":14,"l":-16},{"t":12.75,"u":16,"l":-19},{"t":12.9,"u":18,"l":-15},{"t":13.06,"u":27,"l":-21},{"t":13.66,"u":12,"l":-20},{"t":13.72,"u":15,"l":-17},{"t":0.3,"u":9,"l":-10},{"t":1.45,"u":12,"l":-13},{"t":5.9,"u":21,"l":-19},{"t":14.5,"u":9,"l":-10},{"t":15.2,"u":10,"l":-9}]
},
"vconcat":[
{"width":600,"height":126,"resolve":{"axis":{"x":"independent","y":"independent"}},
 "encoding":{"x":{"field":"t","type":"quantitative","scale":{"domain":[-1.2,15.75],"nice":false,"zero":false},"axis":null}},
 "layer":[
  {"data":{"name":"aT"},"mark":{"type":"area","color":"#0e6a18","opacity":0.3},
   "encoding":{"x":{"field":"t","type":"quantitative","scale":{"domain":[-1.2,15.75],"nice":false,"zero":false},"axis":{"orient":"bottom","tickCount":85,"gridColor":"#d3f4f4","title":null}},
    "y":{"field":"pu","type":"quantitative","scale":{"domain":[-10,12.5],"nice":false,"zero":false},"axis":{"orient":"left","values":[-10,-8.75,-7.5,-6.25,-5,-3.75,-2.5,-1.25,0,1.25,2.5,3.75,5,6.25,7.5,8.75,10,11.25,12.5],"gridColor":"#d3f4f4","title":null}},
    "y2":{"field":"pl"}}},
  {"data":{"values":[{"t":-1.2,"t2":0}]},"mark":{"type":"rect","color":"white"},"encoding":{"x2":{"field":"t2"}}},
  {"data":{"values":[{"t":0.75,"v":11.1,"v2":-10}]},"mark":{"type":"rule","color":"#1d6a24","strokeWidth":1.5},
   "encoding":{"y":{"field":"v","type":"quantitative","scale":{"domain":[-10,12.5],"nice":false,"zero":false},"axis":null},"y2":{"field":"v2"}}},
  {"data":{"name":"aS"},"mark":{"type":"rule","color":"#0e6a18","opacity":0.5,"strokeWidth":1},
   "encoding":{"y":{"field":"u","type":"quantitative","scale":{"domain":[-10,12.5],"nice":false,"zero":false},"axis":null},"y2":{"field":"l"}}},
  {"data":{"name":"aT"},"mark":{"type":"rule","color":"#0e6a18","opacity":0.5,"strokeWidth":1},
   "encoding":{"y":{"field":"pu","type":"quantitative","scale":{"domain":[-10,12.5],"nice":false,"zero":false},"axis":null},"y2":{"field":"pl"}}},
  {"data":{"name":"aT"},"mark":{"type":"area","color":"#0e6a18"},
   "encoding":{"x":{"field":"t","type":"quantitative","scale":{"domain":[-1.2,15.75],"nice":false,"zero":false},"axis":{"orient":"top","tickCount":17,"gridColor":"#a4e6e6","title":null}},
    "y":{"field":"u","type":"quantitative","scale":{"domain":[-10,12.5],"nice":false,"zero":false},"axis":{"orient":"right","values":[12.5,6.25,0,-6.25],"gridColor":"#a4e6e6","title":null}},
    "y2":{"field":"l"}}},
  {"data":{"values":[{"t":-0.54,"v":-1.25,"s":"a"}]},"mark":{"type":"text","font":"Liberation Sans","fontWeight":"bold","fontSize":29,"align":"center","baseline":"alphabetic","color":"black"},
   "encoding":{"y":{"field":"v","type":"quantitative","scale":{"domain":[-10,12.5],"nice":false,"zero":false},"axis":null},"text":{"field":"s"}}},
  {"data":{"values":[{"t":0.52,"v":8.4,"s":"S"}]},"mark":{"type":"text","font":"Liberation Sans","fontWeight":"bold","fontSize":18,"align":"center","baseline":"alphabetic","color":"black"},
   "encoding":{"y":{"field":"v","type":"quantitative","scale":{"domain":[-10,12.5],"nice":false,"zero":false},"axis":null},"text":{"field":"s"}}}
 ]},
{"width":600,"height":126,"resolve":{"axis":{"x":"independent","y":"independent"}},
 "encoding":{"x":{"field":"t","type":"quantitative","scale":{"domain":[-1.2,15.75],"nice":false,"zero":false},"axis":null}},
 "layer":[
  {"data":{"name":"bT"},"mark":{"type":"area","color":"#0e6a18","opacity":0.3},
   "encoding":{"x":{"field":"t","type":"quantitative","scale":{"domain":[-1.2,15.75],"nice":false,"zero":false},"axis":{"orient":"bottom","tickCount":85,"gridColor":"#d3f4f4","title":null}},
    "y":{"field":"pu","type":"quantitative","scale":{"domain":[-10,12.5],"nice":false,"zero":false},"axis":{"orient":"left","values":[-10,-8.75,-7.5,-6.25,-5,-3.75,-2.5,-1.25,0,1.25,2.5,3.75,5,6.25,7.5,8.75,10,11.25,12.5],"gridColor":"#d3f4f4","title":null}},
    "y2":{"field":"pl"}}},
  {"data":{"values":[{"t":-1.2,"t2":0}]},"mark":{"type":"rect","color":"white"},"encoding":{"x2":{"field":"t2"}}},
  {"data":{"values":[{"t":0.75,"v":12.5,"v2":-10}]},"mark":{"type":"rule","color":"#1d6a24","strokeWidth":1.5},
   "encoding":{"y":{"field":"v","type":"quantitative","scale":{"domain":[-10,12.5],"nice":false,"zero":false},"axis":null},"y2":{"field":"v2"}}},
  {"data":{"name":"bS"},"mark":{"type":"rule","color":"#0e6a18","opacity":0.5,"strokeWidth":1},
   "encoding":{"y":{"field":"u","type":"quantitative","scale":{"domain":[-10,12.5],"nice":false,"zero":false},"axis":null},"y2":{"field":"l"}}},
  {"data":{"name":"bT"},"mark":{"type":"rule","color":"#0e6a18","opacity":0.5,"strokeWidth":1},
   "encoding":{"y":{"field":"pu","type":"quantitative","scale":{"domain":[-10,12.5],"nice":false,"zero":false},"axis":null},"y2":{"field":"pl"}}},
  {"data":{"name":"bT"},"mark":{"type":"area","color":"#0e6a18"},
   "encoding":{"x":{"field":"t","type":"quantitative","scale":{"domain":[-1.2,15.75],"nice":false,"zero":false},"axis":{"orient":"top","tickCount":17,"gridColor":"#a4e6e6","title":null}},
    "y":{"field":"u","type":"quantitative","scale":{"domain":[-10,12.5],"nice":false,"zero":false},"axis":{"orient":"right","values":[10,3.75,-2.5,-8.75],"gridColor":"#a4e6e6","title":null}},
    "y2":{"field":"l"}}},
  {"data":{"values":[{"t":-0.54,"v":-1.96,"s":"b"}]},"mark":{"type":"text","font":"Liberation Sans","fontWeight":"bold","fontSize":29,"align":"center","baseline":"alphabetic","color":"black"},
   "encoding":{"y":{"field":"v","type":"quantitative","scale":{"domain":[-10,12.5],"nice":false,"zero":false},"axis":null},"text":{"field":"s"}}},
  {"data":{"values":[{"t":0.52,"v":7.5,"s":"S"}]},"mark":{"type":"text","font":"Liberation Sans","fontWeight":"bold","fontSize":18,"align":"center","baseline":"alphabetic","color":"black"},
   "encoding":{"y":{"field":"v","type":"quantitative","scale":{"domain":[-10,12.5],"nice":false,"zero":false},"axis":null},"text":{"field":"s"}}}
 ]},
{"width":600,"height":126,"resolve":{"axis":{"x":"independent","y":"independent"}},
 "encoding":{"x":{"field":"t","type":"quantitative","scale":{"domain":[-1.2,15.75],"nice":false,"zero":false},"axis":null}},
 "layer":[
  {"data":{"name":"cT"},"mark":{"type":"area","color":"#0e6a18","opacity":0.3},
   "encoding":{"x":{"field":"t","type":"quantitative","scale":{"domain":[-1.2,15.75],"nice":false,"zero":false},"axis":{"orient":"bottom","tickCount":85,"gridColor":"#d3f4f4","title":null}},
    "y":{"field":"pu","type":"quantitative","scale":{"domain":[-10,12.5],"nice":false,"zero":false},"axis":{"orient":"left","values":[-10,-8.75,-7.5,-6.25,-5,-3.75,-2.5,-1.25,0,1.25,2.5,3.75,5,6.25,7.5,8.75,10,11.25,12.5],"gridColor":"#d3f4f4","title":null}},
    "y2":{"field":"pl"}}},
  {"data":{"values":[{"t":-1.2,"t2":0}]},"mark":{"type":"rect","color":"white"},"encoding":{"x2":{"field":"t2"}}},
  {"data":{"values":[{"t":0.75,"v":12.5,"v2":-10}]},"mark":{"type":"rule","color":"#1d6a24","strokeWidth":1.5},
   "encoding":{"y":{"field":"v","type":"quantitative","scale":{"domain":[-10,12.5],"nice":false,"zero":false},"axis":null},"y2":{"field":"v2"}}},
  {"data":{"name":"cS"},"mark":{"type":"rule","color":"#0e6a18","opacity":0.5,"strokeWidth":1},
   "encoding":{"y":{"field":"u","type":"quantitative","scale":{"domain":[-10,12.5],"nice":false,"zero":false},"axis":null},"y2":{"field":"l"}}},
  {"data":{"name":"cT"},"mark":{"type":"rule","color":"#0e6a18","opacity":0.5,"strokeWidth":1},
   "encoding":{"y":{"field":"pu","type":"quantitative","scale":{"domain":[-10,12.5],"nice":false,"zero":false},"axis":null},"y2":{"field":"pl"}}},
  {"data":{"name":"cT"},"mark":{"type":"area","color":"#0e6a18"},
   "encoding":{"x":{"field":"t","type":"quantitative","scale":{"domain":[-1.2,15.75],"nice":false,"zero":false},"axis":{"orient":"top","tickCount":17,"gridColor":"#a4e6e6","title":null}},
    "y":{"field":"u","type":"quantitative","scale":{"domain":[-10,12.5],"nice":false,"zero":false},"axis":{"orient":"right","values":[7.5,1.25,-5],"gridColor":"#a4e6e6","title":null}},
    "y2":{"field":"l"}}},
  {"data":{"values":[{"t":-0.54,"v":-1.07,"s":"c"}]},"mark":{"type":"text","font":"Liberation Sans","fontWeight":"bold","fontSize":29,"align":"center","baseline":"alphabetic","color":"black"},
   "encoding":{"y":{"field":"v","type":"quantitative","scale":{"domain":[-10,12.5],"nice":false,"zero":false},"axis":null},"text":{"field":"s"}}},
  {"data":{"values":[{"t":0.52,"v":8.04,"s":"S"}]},"mark":{"type":"text","font":"Liberation Sans","fontWeight":"bold","fontSize":18,"align":"center","baseline":"alphabetic","color":"black"},
   "encoding":{"y":{"field":"v","type":"quantitative","scale":{"domain":[-10,12.5],"nice":false,"zero":false},"axis":null},"text":{"field":"s"}}}
 ]},
{"width":600,"height":168,"resolve":{"axis":{"x":"independent","y":"independent"}},
 "encoding":{"x":{"field":"t","type":"quantitative","scale":{"domain":[-1.2,15.75],"nice":false,"zero":false},"axis":null}},
 "layer":[
  {"data":{"name":"dT"},"mark":{"type":"area","color":"#0e6a18","opacity":0.3},
   "encoding":{"x":{"field":"t","type":"quantitative","scale":{"domain":[-1.2,15.75],"nice":false,"zero":false},"axis":{"orient":"bottom","tickCount":85,"gridColor":"#d3f4f4","title":null}},
    "y":{"field":"pu","type":"quantitative","scale":{"domain":[-15,15],"nice":false,"zero":false},"axis":{"orient":"left","values":[-15,-13.75,-12.5,-11.25,-10,-8.75,-7.5,-6.25,-5,-3.75,-2.5,-1.25,0,1.25,2.5,3.75,5,6.25,7.5,8.75,10,11.25,12.5,13.75,15],"gridColor":"#d3f4f4","title":null}},
    "y2":{"field":"pl"}}},
  {"data":{"values":[{"t":-1.2,"t2":0}]},"mark":{"type":"rect","color":"white"},"encoding":{"x2":{"field":"t2"}}},
  {"data":{"values":[{"t":14.9,"t2":15.75,"v":14.1,"v2":-13.9}]},"mark":{"type":"rect","color":"white"},
   "encoding":{"x2":{"field":"t2"},"y":{"field":"v","type":"quantitative","scale":{"domain":[-15,15],"nice":false,"zero":false},"axis":null},"y2":{"field":"v2"}}},
  {"data":{"name":"stim"},"mark":{"type":"rule","color":"#4a964a","opacity":0.85,"strokeWidth":1},
   "encoding":{"y":{"datum":14.1,"type":"quantitative","scale":{"domain":[-15,15],"nice":false,"zero":false},"axis":null},"y2":{"datum":-13.9}}},
  {"data":{"name":"dS"},"mark":{"type":"rule","color":"#0e6a18","opacity":0.5,"strokeWidth":1},
   "encoding":{"y":{"field":"u","type":"quantitative","scale":{"domain":[-15,15],"nice":false,"zero":false},"axis":null},"y2":{"field":"l"}}},
  {"data":{"name":"dT"},"mark":{"type":"rule","color":"#0e6a18","opacity":0.5,"strokeWidth":1},
   "encoding":{"y":{"field":"pu","type":"quantitative","scale":{"domain":[-15,15],"nice":false,"zero":false},"axis":null},"y2":{"field":"pl"}}},
  {"data":{"name":"dT"},"mark":{"type":"area","color":"#0e6a18"},
   "encoding":{"x":{"field":"t","type":"quantitative","scale":{"domain":[-1.2,15.75],"nice":false,"zero":false},"axis":{"orient":"top","tickCount":17,"gridColor":"#a4e6e6","title":null}},
    "y":{"field":"u","type":"quantitative","scale":{"domain":[-15,15],"nice":false,"zero":false},"axis":{"orient":"right","values":[13.75,7.5,1.25,-5,-11.25],"gridColor":"#a4e6e6","title":null}},
    "y2":{"field":"l"}}},
  {"data":{"values":[{"t":6.79,"t2":6.79,"v":17,"v2":7},{"t":6.79,"t2":8.74,"v":7,"v2":7}]},"mark":{"type":"rule","color":"black","strokeWidth":3.5,"strokeCap":"square"},
   "encoding":{"x2":{"field":"t2"},"y":{"field":"v","type":"quantitative","scale":{"domain":[-15,15],"nice":false,"zero":false},"axis":null},"y2":{"field":"v2"}}},
  {"data":{"values":[{"t":-0.54,"v":-0.89,"s":"d"}]},"mark":{"type":"text","font":"Liberation Sans","fontWeight":"bold","fontSize":29,"align":"center","baseline":"alphabetic","color":"black"},
   "encoding":{"y":{"field":"v","type":"quantitative","scale":{"domain":[-15,15],"nice":false,"zero":false},"axis":null},"text":{"field":"s"}}},
  {"data":{"values":[{"t":0.18,"v":8.4,"s":"S"},{"t":3.49,"v":8.4,"s":"S"},{"t":9.39,"v":8.04,"s":"S"},{"t":7.72,"v":8.04,"s":"2 s"}]},"mark":{"type":"text","font":"Liberation Sans","fontWeight":"bold","fontSize":18,"align":"center","baseline":"alphabetic","color":"black"},
   "encoding":{"y":{"field":"v","type":"quantitative","scale":{"domain":[-15,15],"nice":false,"zero":false},"axis":null},"text":{"field":"s"}}},
  {"data":{"values":[{"t":6.65,"v":10.2,"s":"10μV"}]},"mark":{"type":"text","font":"Liberation Sans","fontWeight":"bold","fontSize":19,"align":"right","baseline":"alphabetic","color":"black"},
   "encoding":{"y":{"field":"v","type":"quantitative","scale":{"domain":[-15,15],"nice":false,"zero":false},"axis":null},"text":{"field":"s"}}}
 ]},
{"width":600,"height":231,"resolve":{"axis":{"x":"independent","y":"independent"}},
 "encoding":{"x":{"field":"t","type":"quantitative","scale":{"domain":[-1.2,15.75],"nice":false,"zero":false},"axis":null}},
 "layer":[
  {"data":{"name":"eT"},"mark":{"type":"area","color":"#d7141e","opacity":0.3},
   "encoding":{"x":{"field":"t","type":"quantitative","scale":{"domain":[-1.2,15.75],"nice":false,"zero":false},"axis":{"orient":"bottom","tickCount":85,"gridColor":"#d3f4f4","title":null}},
    "y":{"field":"pu","type":"quantitative","scale":{"domain":[-63.75,60],"nice":false,"zero":false},"axis":{"orient":"left","values":[-63.75,-60,-56.25,-52.5,-48.75,-45,-41.25,-37.5,-33.75,-30,-26.25,-22.5,-18.75,-15,-11.25,-7.5,-3.75,0,3.75,7.5,11.25,15,18.75,22.5,26.25,30,33.75,37.5,41.25,45,48.75,52.5,56.25,60],"gridColor":"#d3f4f4","title":null}},
    "y2":{"field":"pl"}}},
  {"data":{"values":[{"t":-1.2,"t2":0}]},"mark":{"type":"rect","color":"white"},"encoding":{"x2":{"field":"t2"}}},
  {"data":{"name":"eS"},"mark":{"type":"rule","color":"#d7141e","opacity":0.55,"strokeWidth":1},
   "encoding":{"y":{"field":"u","type":"quantitative","scale":{"domain":[-63.75,60],"nice":false,"zero":false},"axis":null},"y2":{"field":"l"}}},
  {"data":{"name":"eT"},"mark":{"type":"rule","color":"#d7141e","opacity":0.55,"strokeWidth":1},
   "encoding":{"y":{"field":"pu","type":"quantitative","scale":{"domain":[-63.75,60],"nice":false,"zero":false},"axis":null},"y2":{"field":"pl"}}},
  {"data":{"name":"eT"},"mark":{"type":"area","color":"#d7141e"},
   "encoding":{"x":{"field":"t","type":"quantitative","scale":{"domain":[-1.2,15.75],"nice":false,"zero":false},"axis":{"orient":"top","tickCount":17,"gridColor":"#a4e6e6","title":null}},
    "y":{"field":"u","type":"quantitative","scale":{"domain":[-63.75,60],"nice":false,"zero":false},"axis":{"orient":"right","values":[52.5,33.75,15,-3.75,-22.5,-41.25,-60],"gridColor":"#a4e6e6","title":null}},
    "y2":{"field":"l"}}},
  {"data":{"values":[{"t":13.71,"t2":13.71,"v":50,"v2":20},{"t":13.71,"t2":15.63,"v":20,"v2":20}]},"mark":{"type":"rule","color":"#e3191f","strokeWidth":3.5,"strokeCap":"square"},
   "encoding":{"x2":{"field":"t2"},"y":{"field":"v","type":"quantitative","scale":{"domain":[-63.75,60],"nice":false,"zero":false},"axis":null},"y2":{"field":"v2"}}},
  {"data":{"values":[{"t":-0.54,"v":-3.75,"s":"e"}]},"mark":{"type":"text","font":"Liberation Sans","fontWeight":"bold","fontSize":29,"align":"center","baseline":"alphabetic","color":"black"},
   "encoding":{"y":{"field":"v","type":"quantitative","scale":{"domain":[-63.75,60],"nice":false,"zero":false},"axis":null},"text":{"field":"s"}}},
  {"data":{"values":[{"t":14.67,"v":24.1,"s":"2 s"}]},"mark":{"type":"text","font":"Liberation Sans","fontWeight":"bold","fontSize":19,"align":"center","baseline":"alphabetic","color":"#e3191f"},
   "encoding":{"y":{"field":"v","type":"quantitative","scale":{"domain":[-63.75,60],"nice":false,"zero":false},"axis":null},"text":{"field":"s"}}},
  {"data":{"values":[{"t":13.46,"v":30,"s":"30μV"}]},"mark":{"type":"text","font":"Liberation Sans","fontWeight":"bold","fontSize":19,"align":"right","baseline":"alphabetic","color":"#e3191f"},
   "encoding":{"y":{"field":"v","type":"quantitative","scale":{"domain":[-63.75,60],"nice":false,"zero":false},"axis":null},"text":{"field":"s"}}}
 ]}
]
}
